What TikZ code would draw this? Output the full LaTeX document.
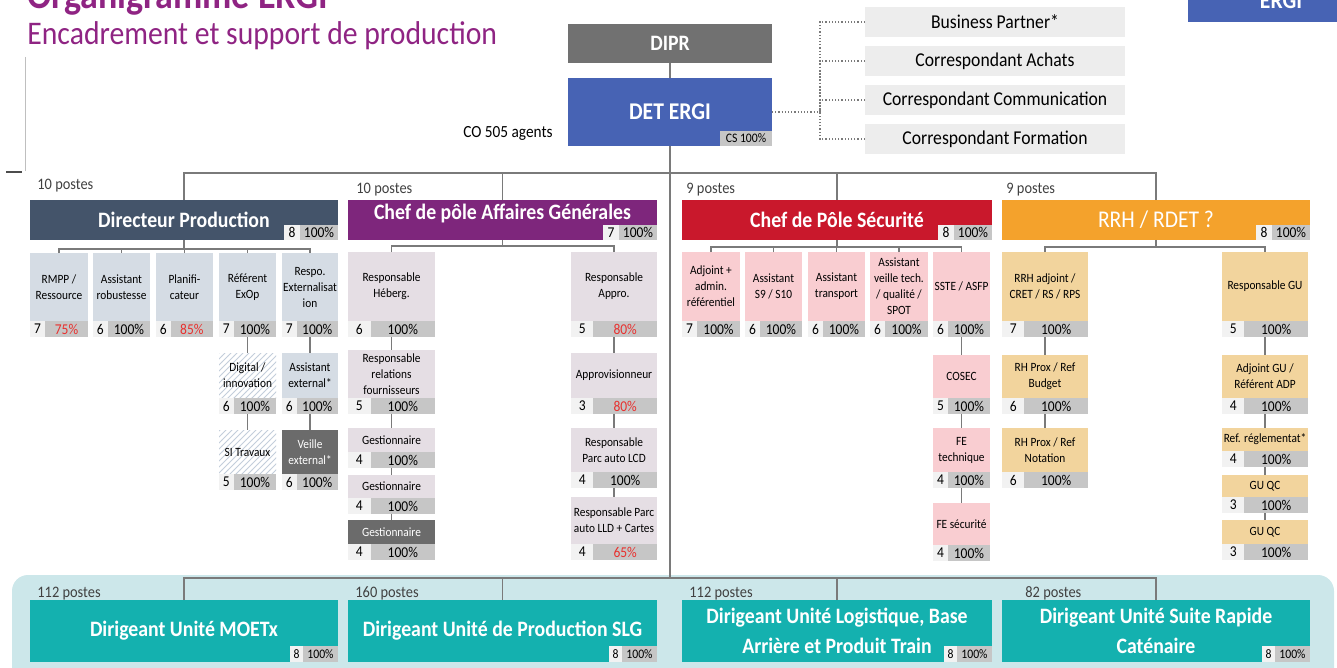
\documentclass[tikz,border=0pt]{standalone}
\usepackage{fontspec}
\setmainfont{Carlito}[FakeStretch=0.9]
\usetikzlibrary{patterns}

\definecolor{titlepurple}{HTML}{8F2483}
\definecolor{detblue}{HTML}{4763B4}
\definecolor{diprgray}{HTML}{717171}
\definecolor{corgray}{HTML}{EDEDED}
\definecolor{dpblue}{HTML}{44546A}
\definecolor{dplight}{HTML}{D5DCE4}
\definecolor{agpurple}{HTML}{7E267C}
\definecolor{aglight}{HTML}{E5DEE4}
\definecolor{secred}{HTML}{C9182C}
\definecolor{seclight}{HTML}{F9CDD1}
\definecolor{rrhorange}{HTML}{F4A22C}
\definecolor{rrhlight}{HTML}{F2D49D}
\definecolor{unitteal}{HTML}{14B1AF}
\definecolor{unitbg}{HTML}{CCE7EA}
\definecolor{numgray}{HTML}{F2F2F2}
\definecolor{pctgray}{HTML}{C6C6C6}
\definecolor{pctred}{HTML}{E8302E}
\definecolor{boxdark}{HTML}{6B6B6B}
\definecolor{linegray}{HTML}{7A7A7A}
\definecolor{hatchblue}{HTML}{C3CEDB}
\definecolor{textgray}{HTML}{404040}

\newcommand{\pxu}{0.5pt}
\newcommand{\rpct}[1]{\textcolor{pctred}{#1\%}}

\tikzset{
  link/.style={draw=linegray, line width=0.7pt},
  dotlink/.style={draw=linegray, line width=0.6pt, densely dotted},
  cell/.style={rectangle, inner sep=0pt, outer sep=0pt},
  poste fill/.style={fill=dplight},
  postebox/.style={cell, poste fill, align=center, font=\fontsize{6.3}{8}\selectfont},
  numcell/.style={cell, fill=numgray, font=\fontsize{7.5}{8}\selectfont},
  pctcell/.style={cell, fill=pctgray, font=\fontsize{7.5}{8}\selectfont},
  chefbox/.style={cell, text=white, align=center, font=\bfseries\fontsize{11}{15}\selectfont},
  darkbox/.style={fill=boxdark, text=white},
  hatched/.style={fill=white, postaction={pattern=north east lines, pattern color=hatchblue}},
  postes/.style={anchor=base west, inner sep=0pt, text=textgray, font=\fontsize{8}{9}\selectfont},
  corbox/.style={cell, fill=corgray, minimum width=260*\pxu, minimum height=30*\pxu,
    font=\fontsize{9.8}{11}\selectfont},
}

% one post: [style]{name}{left}{top}{right}{bottom}{text}{agents}{rate}
\newcommand{\poste}[9][]{%
  \node[postebox, #1, minimum width={(#5-#3)*\pxu}, minimum height={(#6-#4-16)*\pxu}]
    (#2) at ({(#3+#5)/2},{(#4+#6-16)/2}) {#7};
  \node[numcell, minimum width={(#5-#3)*0.26*\pxu}, minimum height={16*\pxu}, anchor=south west]
    (#2-n) at (#3,#6) {#8};
  \node[pctcell, minimum width={(#5-#3)*0.74*\pxu}, minimum height={16*\pxu}, anchor=south west]
    (#2-p) at (#2-n.south east) {#9};
  \coordinate (#2-bot) at ({(#3+#5)/2},#6);
}

% head of a pole: [style]{name}{left}{top}{right}{bottom}{text}{agents}{rate}
\newcommand{\chef}[9][]{%
  \node[chefbox, #1, minimum width={(#5-#3)*\pxu}, minimum height={(#6-#4)*\pxu}]
    (#2) at ({(#3+#5)/2},{(#4+#6)/2}) {#7};
  \node[pctcell, minimum width={38*\pxu}, minimum height={15*\pxu}, anchor=south east]
    (#2-p) at (#2.south east) {#9};
  \node[numcell, minimum width={16*\pxu}, minimum height={15*\pxu}, anchor=south east]
    (#2-n) at (#2-p.south west) {#8};
}

% unit head: {name}{left}{top}{right}{bottom}{text}
\newcommand{\unite}[6]{%
  \node[chefbox, fill=unitteal, minimum width={(#4-#2)*\pxu}, minimum height={(#5-#3)*\pxu}]
    (#1) at ({(#2+#4)/2},{(#3+#5)/2}) {#6};
  \node[pctcell, font=\fontsize{6.5}{7}\selectfont, minimum width={35*\pxu}, minimum height={16*\pxu},
    anchor=south east] (#1-p) at (#1.south east) {100\%};
  \node[numcell, font=\fontsize{6.5}{7}\selectfont, minimum width={13*\pxu}, minimum height={16*\pxu},
    anchor=south east] (#1-n) at (#1-p.south west) {8};
}

\begin{document}
\begin{tikzpicture}[x=0.5pt, y=-0.5pt]
    \useasboundingbox (0,0) rectangle (1337,668);

    % Background of the units
    \fill[unitbg, rounded corners=8pt] (12,575) rectangle (1334,690);

    % Title
    \node[anchor=base west, inner sep=0pt, text=titlepurple, font=\bfseries\fontsize{20}{24}\selectfont]
      (title) at (27,9) {Organigramme ERGI};
    \node[anchor=base west, inner sep=0pt, text=titlepurple, font=\fontsize{16.5}{20}\selectfont]
      (subtitle) at (27,45) {Encadrement et support de production};
    \node[cell, fill=detblue, minimum width=149*\pxu, minimum height=40*\pxu, anchor=south west]
      (ergi) at (1188,22) {};
    \node[text=white, font=\bfseries\fontsize{12}{14}\selectfont] (ergi-t) at (1281,1) {ERGI};
    \draw[black!25, line width=0.4pt] (25,57) -- (25,171);
    \draw[black!70, line width=0.6pt] (6,172) -- (22,172);

    % Direction
    \node[chefbox, fill=diprgray, minimum width=204*\pxu, minimum height=39*\pxu] (dipr) at (670,43.5) {DIPR};
    \node[chefbox, fill=detblue, font=\bfseries\fontsize{12}{14}\selectfont,
      minimum width=204*\pxu, minimum height=68*\pxu] (det) at (670,112) {DET ERGI};
    \node[cell, fill=pctgray, font=\fontsize{6.5}{7}\selectfont, minimum width=52*\pxu,
      minimum height=15*\pxu, anchor=south east] (det-tag) at (det.south east) {CS 100\%};
    \node[anchor=base east, inner sep=0pt, font=\fontsize{8.5}{10}\selectfont] (det-co) at (553,138) {CO 505 agents};

    % Correspondants
    \foreach \n/\y/\t in {bp/22/Business Partner*, ach/61/Correspondant Achats,
        com/100/Correspondant Communication, frm/139/Correspondant Formation}
      \node[corbox] (\n) at (995,\y) {\t};

    % Heads of the poles
    \chef[fill=dpblue]{dp}{30}{200}{338}{240}{Directeur Production}{8}{100\%}
    \chef[fill=agpurple, text depth=8.5pt]{ag}{348}{200}{657}{240}{Chef de pôle Affaires Générales}{7}{100\%}
    \chef[fill=secred]{sec}{682}{200}{992}{240}{Chef de Pôle Sécurité}{8}{100\%}
    \chef[fill=rrhorange, font=\fontsize{12}{14}\selectfont]{rrh}{1002}{200}{1310}{240}{RRH / RDET ?}{8}{100\%}
    \node[postes] (dp-cnt) at (37,190) {10 postes};
    \node[postes] (ag-cnt) at (356,194) {10 postes};
    \node[postes] (sec-cnt) at (686,194) {9 postes};
    \node[postes] (rrh-cnt) at (1006,194) {9 postes};

    % Directeur Production
    \poste{dp1}{30}{253}{88}{337}{RMPP /\\Ressource}{7}{\rpct{75}}
    \poste{dp2}{93}{253}{150}{337}{Assistant\\robustesse}{6}{100\%}
    \poste{dp3}{156}{253}{213}{337}{Planifi-\\cateur}{6}{\rpct{85}}
    \poste{dp4}{219}{253}{276}{337}{Référent\\ExOp}{7}{100\%}
    \poste{dp5}{282}{253}{338}{337}{Respo.\\Externalisat\\ion}{7}{100\%}
    \poste[hatched]{dp4a}{219}{353}{276}{414}{Digital /\\innovation}{6}{100\%}
    \poste[hatched]{dp4b}{219}{430}{276}{490}{SI Travaux}{5}{100\%}
    \poste{dp5a}{282}{353}{338}{414}{Assistant\\external*}{6}{100\%}
    \poste[darkbox]{dp5b}{282}{430}{338}{490}{Veille\\external*}{6}{100\%}

    % Affaires Generales
    \tikzset{poste fill/.style={fill=aglight}}
    \poste{ag1}{348}{252}{435}{337}{Responsable\\Héberg.}{6}{100\%}
    \poste{ag2}{348}{350}{435}{414}{Responsable\\relations\\fournisseurs}{5}{100\%}
    \poste{ag3}{348}{428}{435}{468}{Gestionnaire}{4}{100\%}
    \poste{ag4}{348}{475}{435}{514}{Gestionnaire}{4}{100\%}
    \poste[darkbox]{ag5}{348}{520}{435}{560}{Gestionnaire}{4}{100\%}
    \poste{ag6}{571}{252}{657}{337}{Responsable\\Appro.}{5}{\rpct{80}}
    \poste{ag7}{571}{353}{657}{414}{Approvisionneur}{3}{\rpct{80}}
    \poste{ag8}{571}{428}{657}{488}{Responsable\\Parc auto LCD}{4}{100\%}
    \poste{ag9}{571}{497}{657}{560}{Responsable Parc\\auto LLD + Cartes}{4}{\rpct{65}}

    % Securite
    \tikzset{poste fill/.style={fill=seclight}}
    \poste{se1}{682}{252}{740}{337}{Adjoint +\\admin.\\référentiel}{7}{100\%}
    \poste{se2}{745}{252}{802}{337}{Assistant\\S9 / S10}{6}{100\%}
    \poste{se3}{808}{252}{865}{337}{Assistant\\transport}{6}{100\%}
    \poste{se4}{870}{252}{928}{337}{Assistant\\veille tech.\\/ qualité /\\SPOT}{6}{100\%}
    \poste{se5}{933}{252}{990}{337}{SSTE / ASFP}{6}{100\%}
    \poste{se5a}{933}{355}{990}{414}{COSEC}{5}{100\%}
    \poste{se5b}{933}{428}{990}{488}{FE\\technique}{4}{100\%}
    \poste{se5c}{933}{503}{990}{561}{FE sécurité}{4}{100\%}

    % RRH
    \tikzset{poste fill/.style={fill=rrhlight}}
    \poste{rh1}{1002}{252}{1088}{337}{RRH adjoint /\\CRET / RS / RPS}{7}{100\%}
    \poste{rh2}{1222}{252}{1308}{337}{Responsable GU}{5}{100\%}
    \poste{rh1a}{1002}{355}{1088}{414}{RH Prox / Ref\\Budget}{6}{100\%}
    \poste{rh1b}{1002}{428}{1088}{488}{RH Prox / Ref\\Notation}{6}{100\%}
    \poste{rh2a}{1222}{355}{1308}{414}{Adjoint GU /\\Référent ADP}{4}{100\%}
    \poste{rh2b}{1222}{428}{1308}{467}{Ref. réglementat*}{4}{100\%}
    \poste{rh2c}{1222}{475}{1308}{513}{GU QC}{3}{100\%}
    \poste{rh2d}{1222}{520}{1308}{560}{GU QC}{3}{100\%}

    % Units
    \unite{moe}{30}{600}{338}{662}{Dirigeant Unité MOETx}
    \unite{slg}{348}{600}{657}{662}{Dirigeant Unité de Production SLG}
    \unite{log}{682}{600}{992}{662}{Dirigeant Unité Logistique, Base\\Arrière et Produit Train}
    \unite{sra}{1002}{600}{1310}{662}{Dirigeant Unité Suite Rapide\\Caténaire}
    \node[postes] (moe-cnt) at (37,597) {112 postes};
    \node[postes] (slg-cnt) at (355,597) {160 postes};
    \node[postes] (log-cnt) at (689,597) {112 postes};
    \node[postes] (sra-cnt) at (1025,597) {82 postes};

    % Links
    \draw[link] (dipr) -- (det);
    \coordinate (top-bus) at (670,173);
    \coordinate (bot-bus) at (670,578);
    \draw[link] (det) -- (bot-bus);
    \draw[link] (dp) |- (top-bus) -| (rrh);
    \draw[link] (ag) |- (top-bus);
    \draw[link] (sec) |- (top-bus);
    \draw[link] (moe) |- (bot-bus) -| (sra);
    \draw[link] (slg) |- (bot-bus);
    \draw[link] (log) |- (bot-bus);

    \coordinate (cor-bus) at (820,112);
    \draw[dotlink] (det) -- (cor-bus);
    \foreach \n in {bp,ach,com,frm}
      \draw[dotlink] (\n) -| (cor-bus);

    \foreach \p/\y/\kids in {dp/249/{dp1,dp2,dp3,dp4,dp5}, ag/246/{ag1,ag6},
        sec/247/{se1,se2,se3,se4,se5}, rrh/247/{rh1,rh2}} {
      \coordinate (\p-bus) at (\p.south |- 0,\y);
      \draw[link] (\p.south) -- (\p-bus);
      \foreach \c in \kids
        \draw[link] (\c) |- (\p-bus);
    }

    \foreach \a/\b in {dp4/dp4a, dp4a/dp4b, dp5/dp5a, dp5a/dp5b, ag1/ag2, ag2/ag3, ag3/ag4,
        ag4/ag5, ag6/ag7, ag7/ag8, ag8/ag9, se5/se5a, se5a/se5b, se5b/se5c,
        rh1/rh1a, rh1a/rh1b, rh2/rh2a, rh2a/rh2b, rh2b/rh2c, rh2c/rh2d}
      \draw[link] (\a-bot) -- (\b);

\end{tikzpicture}
\end{document}
